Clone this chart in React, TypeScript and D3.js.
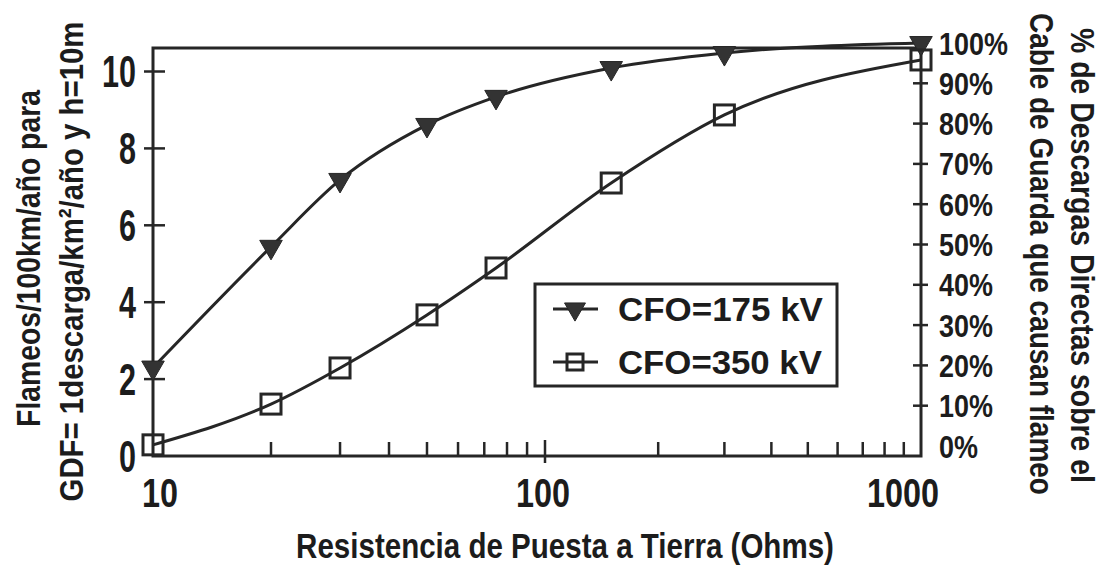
import React from "react";
import * as d3 from "d3";

// ---- data ----
const resistances = [10, 20, 30, 50, 75, 150, 300, 1000];
const cfo175 = [2.3, 5.44, 7.18, 8.61, 9.34, 10.09, 10.48, 10.74];
const cfo350 = [0.29, 1.35, 2.29, 3.67, 4.89, 7.1, 8.87, 10.3];
const leftTickValues = [0, 2, 4, 6, 8, 10];
const pctTickValues = [0, 10, 20, 30, 40, 50, 60, 70, 80, 90, 100];
const xMajorTicks = [10, 100, 1000];
const xMinorTicks = [20, 30, 40, 50, 60, 70, 80, 90, 200, 300, 400, 500, 600, 700, 800, 900];
const seriesNames = ["CFO=175 kV", "CFO=350 kV"];
const xTitle = "Resistencia de Puesta a Tierra (Ohms)";
const leftTitle = ["Flameos/100km/año para", "GDF= 1descarga/km²/año y h=10m"];
const rightTitle = ["% de Descargas Directas sobre el", "Cable de Guarda que causan flameo"];

const W = 1110;
const H = 565;
const L = 153, T = 48, R = 921, B = 456;
const INK = "#262626";
const FONT = "'Liberation Sans', Arial, sans-serif";

let ctx: CanvasRenderingContext2D | null = null;
function measure(text: string, size: number): number {
  if (!ctx) ctx = document.createElement("canvas").getContext("2d");
  if (!ctx) return text.length * size * 0.55;
  ctx.font = `bold ${size}px 'Liberation Sans', Arial, sans-serif`;
  return ctx.measureText(text).width;
}

// condensed text: natural font scaled along the reading direction to a target length
function CText(props: {
  x: number; y: number; text: string; size: number; len: number;
  anchor?: "start" | "middle" | "end"; rotate?: number;
}) {
  const { x, y, text, size, len, anchor = "start", rotate = 0 } = props;
  const s = len / measure(text, size);
  return (
    <text transform={`translate(${x},${y}) rotate(${rotate}) scale(${s},1)`} dy="0.36em"
      textAnchor={anchor} fontSize={size}>{text}</text>
  );
}

export default function App() {
  const x = d3.scaleLog().domain([10, 100, 1000]).range([L, 545, R]);
  const y = d3.scaleLinear().domain([0, 10]).range([B, 71.5]);
  const yp = d3.scaleLinear().domain([0, 100]).range([446, 43]);

  const line = d3
    .line<[number, number]>()
    .x((d) => x(d[0]))
    .y((d) => y(d[1]))
    .curve(d3.curveMonotoneX);

  const d175 = resistances.map((r, i) => [r, cfo175[i]] as [number, number]);
  const d350 = resistances.map((r, i) => [r, cfo350[i]] as [number, number]);
  const tri = d3.symbol().type(d3.symbolTriangle).size(220)() as string;
  const triLegend = d3.symbol().type(d3.symbolTriangle).size(190)() as string;

  return (
    <svg width={W} height={H} style={{ position: "absolute", left: 0, top: 0, background: "#fff" }}
      fontFamily={FONT} fontWeight="bold" fill="#1c1c1c">
      {/* frame */}
      <rect x={L} y={T} width={R - L} height={B - T} fill="none" stroke={INK} strokeWidth={3} />

      {/* left ticks */}
      {leftTickValues.filter((v) => v > 0).map((v) => (
        <line key={"lt" + v} x1={L - 9} x2={L + 12} y1={y(v)} y2={y(v)} stroke={INK} strokeWidth={2.5} />
      ))}
      {leftTickValues.map((v) => (
        <CText key={"ll" + v} x={136} y={y(v)} anchor="end" size={44} text={String(v)} len={String(v).length * 17} />
      ))}

      {/* right ticks */}
      {pctTickValues.filter((v) => v > 0 && v < 100).map((v) => (
        <line key={"rt" + v} x1={R - 8} x2={R + 7} y1={yp(v)} y2={yp(v)} stroke={INK} strokeWidth={2.5} />
      ))}
      {pctTickValues.map((v) => (
        <CText key={"rl" + v} x={939} y={yp(v)} size={32} text={`${v}%`} len={String(v).length * 15 + 24} />
      ))}

      {/* bottom ticks */}
      {xMinorTicks.map((v) => (
        <line key={"xm" + v} x1={x(v)} x2={x(v)} y1={B} y2={B - 14} stroke={INK} strokeWidth={2.5} />
      ))}
      <line x1={x(100)} x2={x(100)} y1={B - 16} y2={B + 7} stroke={INK} strokeWidth={2.5} />
      {xMajorTicks.map((v, i) => (
        <CText key={"xl" + v} x={x(v) + (i === 0 ? 7 : i === xMajorTicks.length - 1 ? -18 : -2)} y={493}
          anchor="middle" size={40} text={String(v)} len={String(v).length * 18} />
      ))}

      {/* series lines */}
      <path d={line(d175) as string} fill="none" stroke={INK} strokeWidth={3} />
      <path d={line(d350) as string} fill="none" stroke={INK} strokeWidth={3} />

      {/* markers */}
      {d175.map((d, i) => (
        <path key={"m1" + i} d={tri} transform={`translate(${x(d[0])},${y(d[1])}) rotate(180)`} fill="#333" stroke={INK} strokeWidth={1} />
      ))}
      {d350.map((d, i) => (
        <rect key={"m2" + i} x={x(d[0]) - 10} y={y(d[1]) - 10} width={20} height={20} fill="none" stroke={INK} strokeWidth={3} />
      ))}

      {/* legend */}
      <rect x={535} y={284} width={302} height={102} fill="#fff" stroke={INK} strokeWidth={3} />
      <line x1={553} x2={598} y1={309} y2={309} stroke={INK} strokeWidth={3} />
      <path d={triLegend} transform={`translate(575,309) rotate(180)`} fill="#333" stroke={INK} strokeWidth={1} />
      <CText x={618} y={309} size={34} text={seriesNames[0]} len={205} />
      <line x1={553} x2={598} y1={362} y2={362} stroke={INK} strokeWidth={3} />
      <rect x={567} y={354} width={16} height={16} fill="none" stroke={INK} strokeWidth={3} />
      <CText x={618} y={362} size={34} text={seriesNames[1]} len={204} />

      {/* axis titles */}
      <CText x={565} y={545} anchor="middle" size={35} text={xTitle} len={538} />
      <CText x={28} y={258.5} rotate={-90} anchor="middle" size={34} text={leftTitle[0]} len={337} />
      <CText x={71} y={261.5} rotate={-90} anchor="middle" size={34} text={leftTitle[1]} len={480} />
      <CText x={1083} y={255.5} rotate={90} anchor="middle" size={34} text={rightTitle[0]} len={455} />
      <CText x={1042} y={254} rotate={90} anchor="middle" size={34} text={rightTitle[1]} len={482} />
    </svg>
  );
}
